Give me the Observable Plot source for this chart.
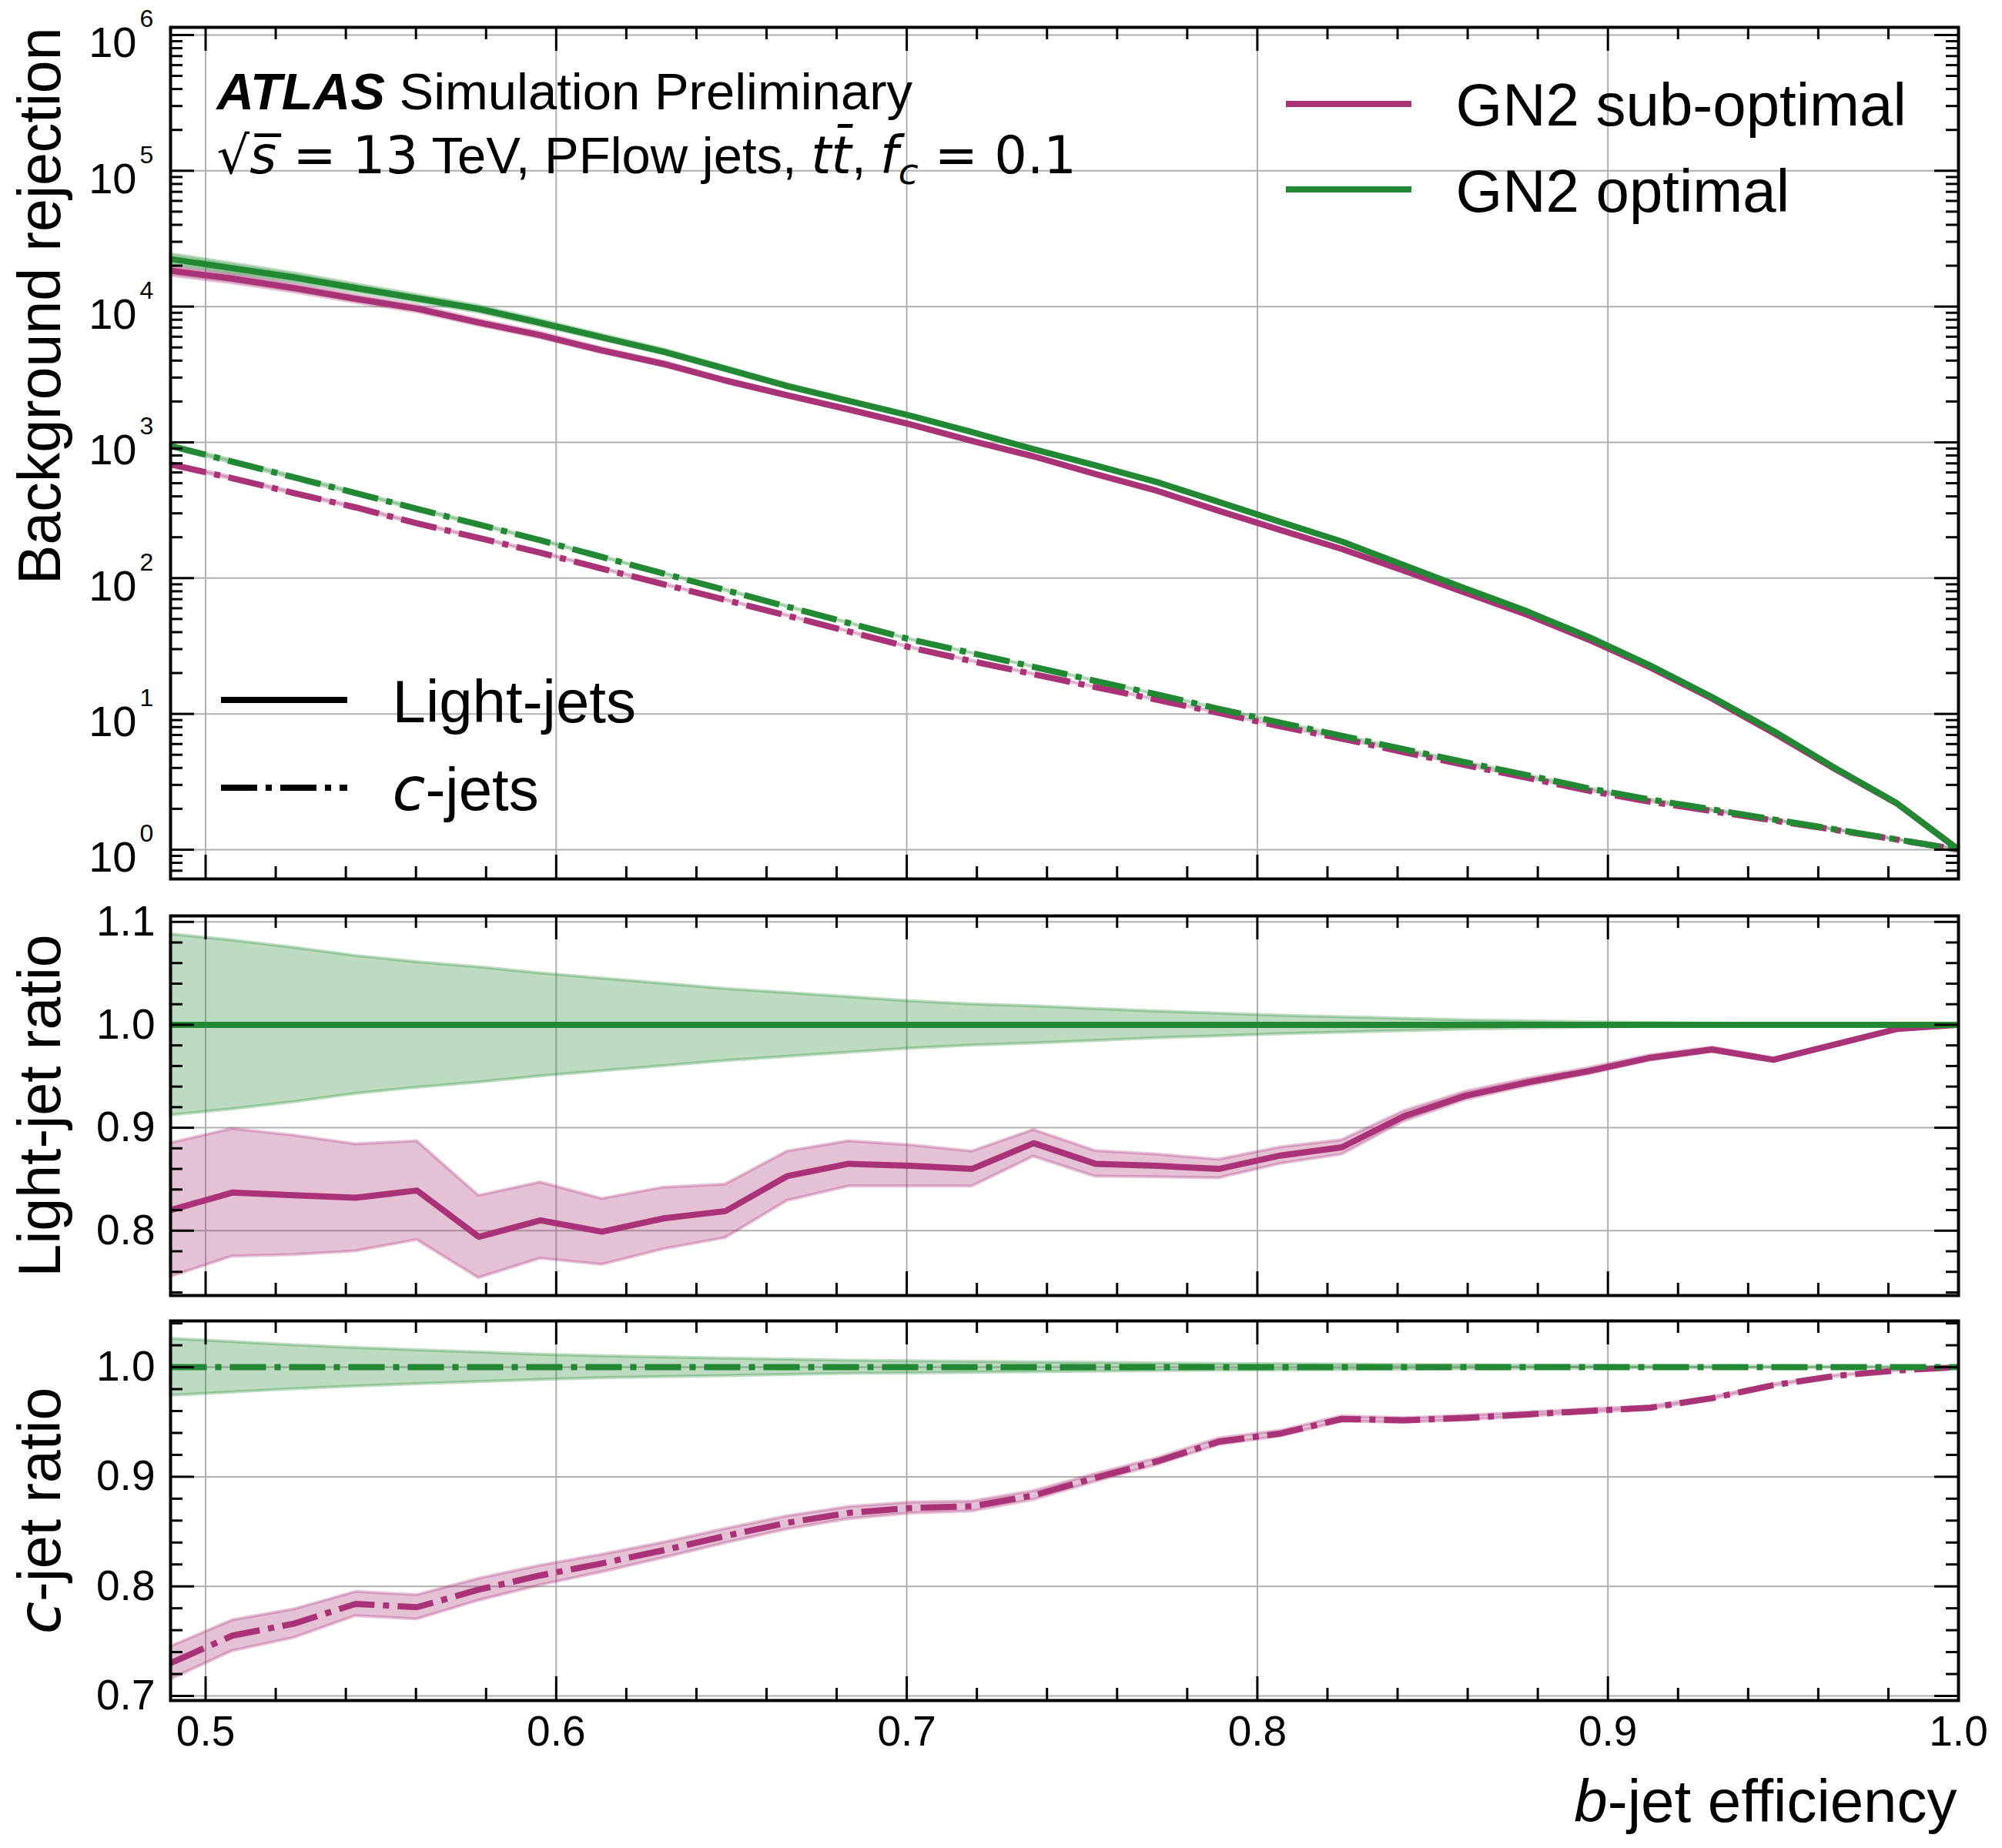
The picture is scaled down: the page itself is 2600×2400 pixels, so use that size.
<!DOCTYPE html>
<html><head><meta charset="utf-8">
<script src="https://cdn.jsdelivr.net/npm/d3@7"></script>
<script src="https://cdn.jsdelivr.net/npm/@observablehq/plot@0.6"></script>
<style>
body{margin:0;background:white;}
#chart{width:2600px;height:2400px;background:white;}
#chart svg{display:block;}
</style></head><body><div id="chart"></div>
<script>
// ---------------- data ----------------
const bEff = [0.49, 0.5076, 0.5252, 0.5428, 0.5603, 0.5779, 0.5955, 0.6131, 0.6307, 0.6483,
  0.6659, 0.6834, 0.7010, 0.7186, 0.7362, 0.7538, 0.7714, 0.7890, 0.8066, 0.8241,
  0.8417, 0.8593, 0.8769, 0.8945, 0.9121, 0.9297, 0.9472, 0.9648, 0.9824, 1.0];
// light-jet rejection, GN2 optimal
const lightRejOpt = [22400, 19200, 16400, 13700, 11500, 9600, 7590, 5940, 4650, 3480,
  2600, 2020, 1570, 1190, 890, 676, 509, 364, 259, 186,
  125, 84, 57, 36.9, 22.7, 13.3, 7.5, 4.0, 2.2, 1.0];
// light-jet ratio sub-optimal / optimal
const lightRatioSub = [0.820, 0.837, 0.8345, 0.832, 0.839, 0.794, 0.810, 0.799, 0.812, 0.819,
  0.853, 0.865, 0.863, 0.860, 0.885, 0.865, 0.863, 0.860, 0.873, 0.881,
  0.911, 0.931, 0.944, 0.955, 0.968, 0.976, 0.966, 0.981, 0.996, 1.0];
const lightErrSub = [0.065, 0.062, 0.058, 0.052, 0.048, 0.040, 0.037, 0.032, 0.030, 0.026,
  0.024, 0.022, 0.020, 0.017, 0.013, 0.0125, 0.011, 0.009, 0.008, 0.007,
  0.005, 0.004, 0.0035, 0.003, 0.0025, 0.002, 0.0015, 0.001, 0.0005, 0];
const lightErrOpt = [0.088, 0.082, 0.075, 0.067, 0.061, 0.056, 0.050, 0.045, 0.040, 0.035,
  0.031, 0.027, 0.023, 0.020, 0.018, 0.0155, 0.013, 0.011, 0.009, 0.0075,
  0.006, 0.0045, 0.0035, 0.0025, 0.0018, 0.0012, 0.0008, 0.0005, 0.0002, 0];
// c-jet rejection, GN2 optimal
const cRejOpt = [942, 721, 552, 423, 324, 248, 190, 143, 108, 81.6,
  61.7, 46.7, 35.4, 28.0, 22.2, 17.5, 13.9, 10.9, 8.6, 6.9,
  5.5, 4.4, 3.54, 2.83, 2.34, 1.98, 1.67, 1.41, 1.19, 1.0];
// c-jet ratio sub-optimal / optimal
const cRatioSub = [0.730, 0.755, 0.766, 0.784, 0.781, 0.797, 0.810, 0.821, 0.833, 0.846,
  0.858, 0.867, 0.8715, 0.873, 0.883, 0.899, 0.914, 0.932, 0.9395, 0.9528,
  0.9515, 0.9537, 0.9569, 0.960, 0.963, 0.9717, 0.9836, 0.992, 0.997, 1.0];
const cErrSub = [0.015, 0.014, 0.013, 0.011, 0.011, 0.010, 0.009, 0.008, 0.007, 0.0065,
  0.006, 0.0055, 0.005, 0.0045, 0.004, 0.0035, 0.003, 0.003, 0.0025, 0.0025,
  0.002, 0.002, 0.0018, 0.0015, 0.0012, 0.001, 0.0008, 0.0005, 0.0003, 0];
const cErrOpt = [0.026, 0.023, 0.020, 0.0176, 0.0155, 0.0135, 0.0115, 0.010, 0.009, 0.008,
  0.007, 0.006, 0.0055, 0.005, 0.0045, 0.004, 0.0035, 0.003, 0.0028, 0.0025,
  0.002, 0.0018, 0.0015, 0.0012, 0.001, 0.0008, 0.0006, 0.0004, 0.0002, 0];

const xTickValues = [0.5, 0.6, 0.7, 0.8, 0.9, 1.0];
const rejTickValues = [1, 10, 100, 1000, 10000, 100000, 1000000];
const lightRatioTicks = [0.8, 0.9, 1.0, 1.1];
const cRatioTicks = [0.7, 0.8, 0.9, 1.0];
const seriesNames = ["GN2 sub-optimal", "GN2 optimal"];
const flavourNames = ["Light-jets", "c-jets"];

// ---------------- styling ----------------
const PURPLE = "#AA3377", GREEN = "#228833";
const SANS = "'Liberation Sans', Arial, Helvetica, sans-serif";
const MATH = "'DejaVu Sans'";
const W = 2600, ML = 221, MR = 57, FW = W - ML - MR;
const DASH = "47,11,8,11";
const GRID = {stroke: "#b0b0b0", strokeWidth: 2};
const TICK = {stroke: "black", strokeWidth: 3};

const rows = bEff.map((x, i) => ({
  x,
  lightOpt: lightRejOpt[i],
  lightSub: lightRejOpt[i] * lightRatioSub[i],
  cOpt: cRejOpt[i],
  cSub: cRejOpt[i] * cRatioSub[i],
  lightRatio: lightRatioSub[i], cRatio: cRatioSub[i],
  lightErrOpt: lightErrOpt[i], lightErrSub: lightErrSub[i],
  cErrOpt: cErrOpt[i], cErrSub: cErrSub[i]
}));

const xMinor = d3.range(25, 50).filter(i => i % 5 !== 0).map(i => i / 50);
const logMinor = [];
for (let e = -1; e <= 5; e++) for (let m = 2; m <= 9; m++) logMinor.push(m * Math.pow(10, e));

function bandMark(y1, y2, color) {
  return Plot.areaY(rows, {x: "x", y1, y2, fill: color, fillOpacity: 0.3,
    stroke: color, strokeOpacity: 0.3, strokeWidth: 4});
}
function lineMark(y, color, dashed) {
  return Plot.line(rows, {x: "x", y, stroke: color, strokeWidth: 8, strokeLinejoin: "round",
    strokeLinecap: "butt", strokeDasharray: dashed ? DASH : null});
}
function frameTicks(FH, yMajor, yMinor) {
  const m = [];
  for (const [vals, L] of [[xTickValues, 31], [xMinor, 16]]) {
    m.push(Plot.ruleX(vals, {x: d => d, insetBottom: FH - L, ...TICK}));
    m.push(Plot.ruleX(vals, {x: d => d, insetTop: FH - L, ...TICK}));
  }
  for (const [vals, L] of [[yMajor, 31], [yMinor, 16]]) {
    m.push(Plot.ruleY(vals, {y: d => d, insetRight: FW - L, ...TICK}));
    m.push(Plot.ruleY(vals, {y: d => d, insetLeft: FW - L, ...TICK}));
  }
  return m;
}
function swatches(items) {
  return (index, scales, values, dims) => {
    const g = d3.create("svg:g");
    for (const s of items) {
      g.append("line")
        .attr("x1", dims.marginLeft + s.dx1).attr("x2", dims.marginLeft + s.dx2)
        .attr("y1", dims.marginTop + s.dy).attr("y2", dims.marginTop + s.dy)
        .attr("stroke", s.color).attr("stroke-width", 8)
        .attr("stroke-dasharray", s.dash || null);
    }
    return g.node();
  };
}
function label(str, opts) {
  return Plot.text([str], {text: d => d, ...opts});
}

const IT = {"font-family": MATH, "font-style": "italic"};
const RICH = {
  "ATLAS Simulation Preliminary": [["ATLAS", {"font-weight": "bold", "font-style": "italic"}], [" Simulation Preliminary", {}]],
  "√s = 13 TeV, PFlow jets, tt̄, fc = 0.1": [
    ["√", {"font-family": MATH}],
    ["s\u0305", IT],
    [" = 13", {"font-family": MATH}],
    [" TeV, PFlow jets, ", {}],
    ["tt\u0304", IT],
    [", ", {}],
    ["f", IT],
    ["c", {...IT, "font-size": "47px", dy: "14"}],
    [" = 0.1", {"font-family": MATH, dy: "-14"}]
  ],
  "c-jet ratio": [["c", IT], ["-jet ratio", {}]],
  "c-jets": [["c", IT], ["-jets", {}]],
  "b-jet efficiency": [["b", {"font-style": "italic"}], ["-jet efficiency", {}]]
};
function richify(svg) {
  d3.select(svg).selectAll("text").each(function () {
    const segs = RICH[this.textContent];
    if (!segs) return;
    const el = d3.select(this);
    el.text(null);
    for (const [txt, attrs] of segs) {
      const ts = el.append("tspan").text(txt);
      for (const [k, v] of Object.entries(attrs)) ts.attr(k, v);
    }
  });
}
const STYLE = {fontFamily: SANS, fontSize: "55px", background: "white", color: "black", overflow: "visible"};

// ---------------- top panel ----------------
const H1 = 1160, MT1 = 35, MB1 = 19, FH1 = H1 - MT1 - MB1;
const rejPlot = Plot.plot({
  width: W, height: H1, marginLeft: ML, marginRight: MR, marginTop: MT1, marginBottom: MB1,
  x: {domain: [0.49, 1.0], axis: null},
  y: {type: "log", domain: [0.6086, 1.139e6], axis: null},
  style: STYLE,
  marks: [
    Plot.ruleX(xTickValues, {x: d => d, ...GRID}),
    Plot.ruleY(rejTickValues, {y: d => d, ...GRID}),
    bandMark(d => d.lightSub * (1 - d.lightErrSub / d.lightRatio), d => d.lightSub * (1 + d.lightErrSub / d.lightRatio), PURPLE),
    lineMark("lightSub", PURPLE, false),
    bandMark(d => d.cSub * (1 - d.cErrSub / d.cRatio), d => d.cSub * (1 + d.cErrSub / d.cRatio), PURPLE),
    lineMark("cSub", PURPLE, true),
    bandMark(d => d.lightOpt * (1 - d.lightErrOpt), d => d.lightOpt * (1 + d.lightErrOpt), GREEN),
    lineMark("lightOpt", GREEN, false),
    bandMark(d => d.cOpt * (1 - d.cErrOpt), d => d.cOpt * (1 + d.cErrOpt), GREEN),
    lineMark("cOpt", GREEN, true),
    ...frameTicks(FH1, rejTickValues, logMinor.filter(v => v > 0.6086 && v < 1.139e6)),
    Plot.frame({stroke: "black", strokeWidth: 4}),
    Plot.text(rejTickValues, {y: d => d, frameAnchor: "left", text: () => "10", textAnchor: "end",
      lineAnchor: "bottom", dx: -44, dy: 29, fontSize: 56}),
    Plot.text(rejTickValues, {y: d => d, frameAnchor: "left", text: d => String(Math.round(Math.log10(d))),
      textAnchor: "start", lineAnchor: "bottom", dx: -40, dy: -10, fontSize: 32}),
    label("Background rejection", {frameAnchor: "top-left", rotate: -90, textAnchor: "end",
      lineAnchor: "bottom", dx: -144, fontSize: 77}),
    label("ATLAS Simulation Preliminary", {frameAnchor: "top-left", textAnchor: "start", lineAnchor: "bottom",
      dx: 60, dy: 106, fontSize: 67}),
    label("√s = 13 TeV, PFlow jets, tt̄, fc = 0.1", {frameAnchor: "top-left", textAnchor: "start",
      lineAnchor: "bottom", dx: 60, dy: 189, fontSize: 67}),
    swatches([
      {dx1: 1449, dx2: 1612, dy: 100, color: PURPLE},
      {dx1: 1449, dx2: 1612, dy: 211, color: GREEN},
      {dx1: 66, dx2: 230, dy: 874, color: "black"},
      {dx1: 66, dx2: 230, dy: 988, color: "black", dash: DASH}
    ]),
    label(seriesNames[0], {frameAnchor: "top-left", textAnchor: "start", lineAnchor: "bottom", dx: 1669, dy: 127, fontSize: 78}),
    label(seriesNames[1], {frameAnchor: "top-left", textAnchor: "start", lineAnchor: "bottom", dx: 1669, dy: 239, fontSize: 78}),
    label(flavourNames[0], {frameAnchor: "top-left", textAnchor: "start", lineAnchor: "bottom", dx: 288, dy: 902, fontSize: 78}),
    label(flavourNames[1], {frameAnchor: "top-left", textAnchor: "start", lineAnchor: "bottom", dx: 288, dy: 1016, fontSize: 78})
  ]
});
richify(rejPlot);

// ---------------- light-jet ratio ----------------
const H2 = 540, MT2 = 29, MB2 = 18, FH2 = H2 - MT2 - MB2;
const lightPlot = Plot.plot({
  width: W, height: H2, marginLeft: ML, marginRight: MR, marginTop: MT2, marginBottom: MB2,
  x: {domain: [0.49, 1.0], axis: null},
  y: {domain: [0.737, 1.1058], axis: null},
  style: STYLE,
  marks: [
    Plot.ruleX(xTickValues, {x: d => d, ...GRID}),
    Plot.ruleY(lightRatioTicks, {y: d => d, ...GRID}),
    bandMark(d => d.lightRatio - d.lightErrSub, d => d.lightRatio + d.lightErrSub, PURPLE),
    lineMark("lightRatio", PURPLE, false),
    bandMark(d => d.lightOpt / d.lightOpt - d.lightErrOpt, d => d.lightOpt / d.lightOpt + d.lightErrOpt, GREEN),
    lineMark(d => d.lightOpt / d.lightOpt, GREEN, false),
    ...frameTicks(FH2, lightRatioTicks, d3.range(37, 56).filter(i => i % 5 !== 0).map(i => i / 50)),
    Plot.frame({stroke: "black", strokeWidth: 4}),
    Plot.text(lightRatioTicks, {y: d => d, frameAnchor: "left", text: d => d.toFixed(1), textAnchor: "end",
      lineAnchor: "middle", dx: -20, fontSize: 55}),
    label("Light-jet ratio", {frameAnchor: "left", rotate: -90, textAnchor: "middle",
      lineAnchor: "bottom", dx: -144, fontSize: 77})
  ]
});
richify(lightPlot);

// ---------------- c-jet ratio ----------------
const H3 = 700, MT3 = 15, MB3 = 192, FH3 = H3 - MT3 - MB3;
const cPlot = Plot.plot({
  width: W, height: H3, marginLeft: ML, marginRight: MR, marginTop: MT3, marginBottom: MB3,
  x: {domain: [0.49, 1.0], axis: null},
  y: {domain: [0.6958, 1.0422], axis: null},
  style: STYLE,
  marks: [
    Plot.ruleX(xTickValues, {x: d => d, ...GRID}),
    Plot.ruleY(cRatioTicks, {y: d => d, ...GRID}),
    bandMark(d => d.cRatio - d.cErrSub, d => d.cRatio + d.cErrSub, PURPLE),
    lineMark("cRatio", PURPLE, true),
    bandMark(d => d.cOpt / d.cOpt - d.cErrOpt, d => d.cOpt / d.cOpt + d.cErrOpt, GREEN),
    lineMark(d => d.cOpt / d.cOpt, GREEN, true),
    ...frameTicks(FH3, cRatioTicks, d3.range(35, 53).filter(i => i % 5 !== 0).map(i => i / 50)),
    Plot.frame({stroke: "black", strokeWidth: 4}),
    Plot.text(cRatioTicks, {y: d => d, frameAnchor: "left", text: d => d.toFixed(1), textAnchor: "end",
      lineAnchor: "middle", dx: -20, fontSize: 55}),
    Plot.text(xTickValues, {x: d => d, frameAnchor: "bottom", text: d => d.toFixed(1),
      lineAnchor: "top", dy: 19, fontSize: 55}),
    label("c-jet ratio", {frameAnchor: "left", rotate: -90, textAnchor: "middle",
      lineAnchor: "bottom", dx: -144, fontSize: 77}),
    label("b-jet efficiency", {frameAnchor: "bottom-right", textAnchor: "end", lineAnchor: "bottom",
      dx: -2, dy: 157, fontSize: 78})
  ]
});
richify(cPlot);

document.getElementById("chart").append(rejPlot, lightPlot, cPlot);
</script></body></html>
